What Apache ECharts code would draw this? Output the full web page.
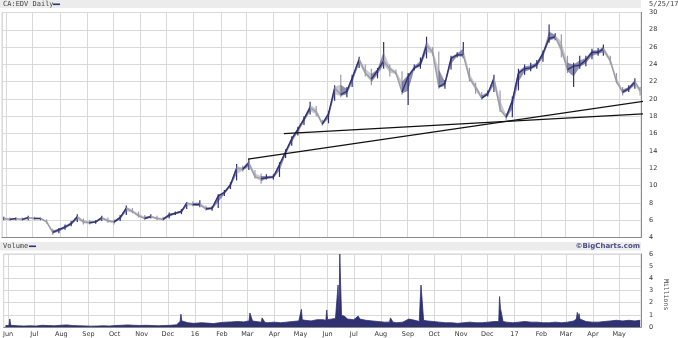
<!DOCTYPE html>
<html><head><meta charset="utf-8">
<script src="https://cdn.jsdelivr.net/npm/echarts@6/dist/echarts.min.js"></script>
<style>html,body{margin:0;padding:0;background:#fff}#c{width:678px;height:338px}</style>
</head><body><div id="c"></div>
<script>
// Weekly price readings (CA:EDV daily chart, summarised per week)
const weekDates = ['2015-05-29','2015-06-05','2015-06-12','2015-06-19','2015-06-26','2015-07-03','2015-07-10','2015-07-17','2015-07-24','2015-07-31',
'2015-08-07','2015-08-14','2015-08-21','2015-08-28','2015-09-04','2015-09-11','2015-09-18','2015-09-25','2015-10-02','2015-10-09',
'2015-10-16','2015-10-23','2015-10-30','2015-11-06','2015-11-13','2015-11-20','2015-11-27','2015-12-04','2015-12-11','2015-12-18',
'2015-12-24','2015-12-31','2016-01-08','2016-01-15','2016-01-22','2016-01-29','2016-02-05','2016-02-12','2016-02-19','2016-02-26',
'2016-03-04','2016-03-11','2016-03-18','2016-03-24','2016-04-01','2016-04-08','2016-04-15','2016-04-22','2016-04-29','2016-05-06',
'2016-05-13','2016-05-20','2016-05-27','2016-06-03','2016-06-10','2016-06-17','2016-06-24','2016-06-30','2016-07-08','2016-07-15',
'2016-07-22','2016-07-29','2016-08-05','2016-08-12','2016-08-19','2016-08-26','2016-09-02','2016-09-09','2016-09-16','2016-09-23',
'2016-09-30','2016-10-07','2016-10-14','2016-10-21','2016-10-28','2016-11-04','2016-11-11','2016-11-18','2016-11-25','2016-12-02',
'2016-12-09','2016-12-16','2016-12-23','2016-12-30','2017-01-06','2017-01-13','2017-01-20','2017-01-27','2017-02-03','2017-02-10',
'2017-02-17','2017-02-24','2017-03-03','2017-03-10','2017-03-17','2017-03-24','2017-03-31','2017-04-07','2017-04-13','2017-04-21',
'2017-04-28','2017-05-05','2017-05-12','2017-05-19','2017-05-25'];
const weekLows = [6.0,5.9,6.0,5.9,6.0,6.0,6.0,5.6,4.3,4.5,
4.9,5.3,5.8,5.5,5.5,5.6,5.9,5.7,5.5,5.9,
6.6,6.8,6.3,6.0,6.2,6.0,5.9,6.2,6.6,6.7,
7.3,7.6,7.5,7.1,7.1,7.4,8.8,9.6,10.6,11.6,
11.8,10.8,10.2,10.7,10.7,11.0,13.2,14.6,15.8,17.0,
18.2,18.0,16.9,17.2,19.8,20.2,20.2,21.4,23.6,22.6,
21.6,22.4,23.5,22.6,22.8,20.5,19.3,23.3,23.5,24.7,
25.0,21.2,21.2,23.4,24.8,24.7,22.0,20.6,19.9,20.3,
20.8,18.5,17.6,17.9,21.0,22.8,23.2,23.5,24.3,26.5,
26.8,24.8,23.0,21.4,23.5,23.8,24.6,25.0,25.0,24.0,
21.8,20.4,20.8,21.2,20.4];
const weekCloses = [6.2,6.1,6.2,6.1,6.3,6.2,6.2,5.8,4.6,4.9,
5.2,5.6,6.4,5.8,5.7,5.8,6.3,5.9,5.8,6.3,
7.4,7.0,6.5,6.2,6.4,6.2,6.1,6.6,6.8,7.0,
8.0,7.8,7.8,7.3,7.4,8.8,9.2,10.1,12.0,11.9,
12.6,11.0,10.8,10.9,11.0,12.4,13.9,15.4,16.5,17.7,
19.0,18.5,17.1,18.3,21.3,20.5,20.9,22.4,24.6,23.0,
22.3,23.3,24.4,23.5,23.0,20.8,22.6,23.6,24.0,26.2,
25.4,21.4,21.8,24.7,25.1,25.1,22.4,21.4,20.1,20.6,
22.4,18.8,17.9,19.8,23.0,23.5,23.6,24.0,25.3,27.0,
27.2,25.8,23.4,23.8,23.9,24.5,25.4,25.4,25.8,24.4,
22.0,20.8,21.2,22.0,21.0];
const weekHighs = [6.4,6.3,6.3,6.3,6.5,6.4,6.3,6.1,5.0,5.1,
5.5,5.9,6.7,6.2,6.0,6.0,6.5,6.3,6.1,6.6,
7.7,7.4,7.0,6.6,6.7,6.5,6.4,6.9,7.0,7.3,
8.1,8.2,8.3,7.7,7.6,9.0,9.5,10.4,12.5,12.3,
13.1,11.8,11.4,11.3,11.3,12.7,14.2,15.7,16.8,18.0,
19.7,19.2,17.6,18.6,21.6,22.8,21.4,22.8,24.9,24.0,
23.5,23.6,26.6,24.0,23.4,23.2,23.0,24.0,24.8,27.2,
26.0,25.5,22.2,25.0,25.4,26.6,23.6,21.9,20.8,21.0,
22.8,21.0,18.4,20.3,23.5,24.0,24.2,24.5,25.6,28.6,
27.6,27.5,25.0,24.2,25.0,25.0,25.8,25.9,26.3,25.0,
23.0,21.4,21.6,22.4,21.4];

// Trend lines (start / end readings)
const trendA = [['2016-03-03', 13.06], ['2017-06-06', 19.85]];
const trendB = [['2016-04-13', 16.0], ['2017-05-30', 18.3]];

// Volume readings (millions)
const volDates = ['2015-05-29','2015-06-02','2015-06-03','2015-06-04','2015-06-12','2015-06-19','2015-06-26','2015-07-03','2015-07-10','2015-07-17',
'2015-07-24','2015-07-31','2015-08-07','2015-08-14','2015-08-21','2015-08-28','2015-09-04','2015-09-11','2015-09-18','2015-09-25',
'2015-10-02','2015-10-09','2015-10-16','2015-10-23','2015-10-30','2015-11-06','2015-11-13','2015-11-20','2015-11-27','2015-12-04',
'2015-12-11','2015-12-15','2015-12-16','2015-12-17','2015-12-24','2015-12-31','2016-01-08','2016-01-15','2016-01-22','2016-01-29',
'2016-02-05','2016-02-12','2016-02-19','2016-02-26','2016-03-03','2016-03-04','2016-03-07','2016-03-11','2016-03-17','2016-03-18',
'2016-03-21','2016-03-24','2016-04-01','2016-04-08','2016-04-15','2016-04-22','2016-04-29','2016-05-02','2016-05-03','2016-05-06',
'2016-05-13','2016-05-20','2016-05-27','2016-05-30','2016-05-31','2016-06-01','2016-06-03','2016-06-10','2016-06-13','2016-06-14',
'2016-06-15','2016-06-16','2016-06-17','2016-06-20','2016-06-24','2016-07-01','2016-07-06','2016-07-08','2016-07-15','2016-07-22',
'2016-07-29','2016-08-05','2016-08-11','2016-08-12','2016-08-15','2016-08-19','2016-08-26','2016-09-02','2016-09-09','2016-09-14',
'2016-09-15','2016-09-16','2016-09-19','2016-09-23','2016-09-30','2016-10-07','2016-10-14','2016-10-21','2016-10-28','2016-11-04',
'2016-11-11','2016-11-18','2016-11-25','2016-12-02','2016-12-09','2016-12-14','2016-12-15','2016-12-16','2016-12-19','2016-12-23',
'2016-12-30','2017-01-06','2017-01-13','2017-01-20','2017-01-27','2017-02-03','2017-02-10','2017-02-17','2017-02-24','2017-03-03',
'2017-03-10','2017-03-13','2017-03-14','2017-03-15','2017-03-16','2017-03-17','2017-03-24','2017-03-31','2017-04-07','2017-04-14',
'2017-04-21','2017-04-28','2017-05-05','2017-05-12','2017-05-19','2017-05-25'];
const volValues = [0.12,0.12,0.66,0.14,0.10,0.08,0.10,0.08,0.14,0.12,
0.10,0.14,0.17,0.12,0.10,0.09,0.07,0.08,0.10,0.08,
0.12,0.14,0.17,0.14,0.12,0.14,0.12,0.10,0.12,0.14,
0.18,0.45,1.05,0.50,0.35,0.30,0.35,0.32,0.28,0.35,
0.40,0.42,0.45,0.42,0.50,1.15,0.50,0.45,0.40,0.75,
0.40,0.35,0.40,0.35,0.40,0.45,0.50,1.45,0.60,0.55,
0.50,0.60,0.60,0.55,1.40,0.60,0.65,0.70,3.45,0.95,
6.00,3.30,0.95,0.90,0.65,0.60,0.90,0.65,0.55,0.50,
0.45,0.40,0.40,0.75,0.40,0.35,0.40,0.65,0.55,0.45,
2.10,3.45,0.55,0.50,0.45,0.40,0.35,0.35,0.30,0.35,
0.40,0.35,0.35,0.40,0.45,0.45,2.50,1.55,0.45,0.40,
0.35,0.40,0.45,0.40,0.40,0.35,0.35,0.40,0.35,0.40,
0.50,0.65,1.20,0.75,1.10,0.65,0.45,0.40,0.40,0.45,
0.50,0.55,0.50,0.55,0.50,0.55];

const monthNames = ['Jan','Feb','Mar','Apr','May','Jun','Jul','Aug','Sep','Oct','Nov','Dec'];
const priceTicks = {min: 4, max: 30, interval: 2};
const volTicks = {min: 0, max: 6, interval: 1};

const NAVY = '#2f3172', GRAY = '#9c9ca8', GRID = '#d9d9d9', AXIS = '#8a8a8a', TXT = '#333';
const DAY = 86400000;

const chart = echarts.init(document.getElementById('c'), null, {renderer: 'canvas'});

function xAxisCfg(gridIndex, showLabels) {
  return {
    type: 'time', gridIndex, min: '2015-05-27', max: '2017-05-26',
    minInterval: 28 * DAY, maxInterval: 31 * DAY, splitNumber: 24,
    axisLine: {show: true, lineStyle: {color: AXIS, width: 1}},
    axisTick: {show: false},
    splitLine: {show: true, lineStyle: {color: GRID, width: 1}},
    axisLabel: {
      show: showLabels, fontSize: 6.5, color: TXT, margin: 4, fontFamily: 'DejaVu Sans',
      showMinLabel: false, showMaxLabel: false, hideOverlap: false,
      formatter: function (v) {
        const d = new Date(v);
        return d.getMonth() === 0 ? String(d.getFullYear()).slice(2) : monthNames[d.getMonth()];
      }
    }
  };
}
function yAxisCfg(gridIndex, t) {
  return {
    type: 'value', gridIndex, position: 'right', min: t.min, max: t.max, interval: t.interval,
    axisLine: {show: true, lineStyle: {color: AXIS, width: 1}},
    axisTick: {show: false},
    splitLine: {show: true, lineStyle: {color: GRID, width: 1}},
    axisLabel: {fontSize: 6.5, color: TXT, margin: 8, fontFamily: 'DejaVu Sans', align: 'left'}
  };
}

const priceData = weekDates.map((d, i) => [d, weekLows[i], weekCloses[i], weekHighs[i]]);
const volData = volDates.map((d, i) => [d, volValues[i]]);

const option = {
  animation: false,
  backgroundColor: '#fff',
  grid: [
    {left: 2, right: 37, top: 12.5, height: 225, show: true, borderColor: '#d4d4d4', borderWidth: 1},
    {left: 2, right: 37, top: 254, height: 75, show: true, borderColor: '#d4d4d4', borderWidth: 1}
  ],
  xAxis: [xAxisCfg(0, false), xAxisCfg(1, true)],
  yAxis: [yAxisCfg(0, priceTicks), yAxisCfg(1, volTicks)],
  graphic: [
    {type: 'rect', left: 0, top: 0, shape: {width: 641, height: 8}, style: {fill: '#ececec'}, silent: true},
    {type: 'text', left: 3, top: 1, style: {text: 'CA:EDV Daily', font: '7px "DejaVu Sans Mono"', fill: '#444'}},
    {type: 'rect', left: 53, top: 3.5, shape: {width: 7, height: 1.6}, style: {fill: NAVY}},
    {type: 'text', left: 649, top: 1, style: {text: '5/25/17', font: '7px "DejaVu Sans Mono"', fill: '#444'}},
    {type: 'rect', left: 0, top: 242, shape: {width: 641, height: 8.5}, style: {fill: '#ececec'}, silent: true},
    {type: 'text', left: 3, top: 243, style: {text: 'Volume', font: '7px "DejaVu Sans Mono"', fill: '#444'}},
    {type: 'rect', left: 29, top: 245.5, shape: {width: 7, height: 1.6}, style: {fill: NAVY}},
    {type: 'text', right: 38, top: 242.5, style: {text: '\u00A9BigCharts.com', font: 'bold 7px "DejaVu Sans"', fill: '#4a4c85'}},
    {type: 'text', x: 669, y: 279, rotation: -Math.PI / 2, style: {text: 'Millions', font: '6.5px "DejaVu Sans Mono"', fill: '#444'}}
  ],
  series: [
    {
      type: 'custom', xAxisIndex: 0, yAxisIndex: 0, data: priceData,
      encode: {x: 0, y: [1, 2, 3]},
      renderItem: function (params, api) {
        const i = params.dataIndexInside;
        const t = api.value(0);
        const lo = api.coord([t, api.value(1)]);
        const hi = api.coord([t, api.value(3)]);
        const cp = api.coord([t, api.value(2)]);
        let color = NAVY;
        const children = [];
        if (i > 0) {
          const pt = api.value(0, i - 1), pc = api.value(2, i - 1);
          if (api.value(2) < pc) color = GRAY;
          const q = api.coord([pt, pc]);
          const qlo = api.coord([pt, api.value(1, i - 1)]);
          const qhi = api.coord([pt, api.value(3, i - 1)]);
          const mlo = [(qlo[0] + lo[0]) / 2, (qlo[1] + lo[1]) / 2 - 0.3 * Math.abs(qlo[1] - lo[1]) * 0];
          children.push({type: 'polygon', shape: {points: [[q[0], (q[1] + qlo[1]) / 2], [q[0], (q[1] + qhi[1]) / 2], [cp[0], (cp[1] + hi[1]) / 2], [cp[0], (cp[1] + lo[1]) / 2]]},
            style: {fill: color, opacity: 0.55}});
          children.push({type: 'line', shape: {x1: q[0], y1: q[1], x2: cp[0], y2: cp[1]}, style: {stroke: color, lineWidth: 1.4}});
        }
        children.push({type: 'line', shape: {x1: lo[0], y1: lo[1], x2: hi[0], y2: hi[1]}, style: {stroke: color, lineWidth: 1.2}});
        return {type: 'group', children};
      }
    },
    {type: 'line', xAxisIndex: 0, yAxisIndex: 0, data: trendA, symbol: 'none', clip: false, lineStyle: {color: '#111', width: 1.3}},
    {type: 'line', xAxisIndex: 0, yAxisIndex: 0, data: trendB, symbol: 'none', clip: false, lineStyle: {color: '#111', width: 1.3}},
    {
      type: 'line', xAxisIndex: 1, yAxisIndex: 1, data: volData, symbol: 'none',
      lineStyle: {color: NAVY, width: 0.8}, areaStyle: {color: NAVY, opacity: 1}
    }
  ]
};
chart.setOption(option);
</script></body></html>
